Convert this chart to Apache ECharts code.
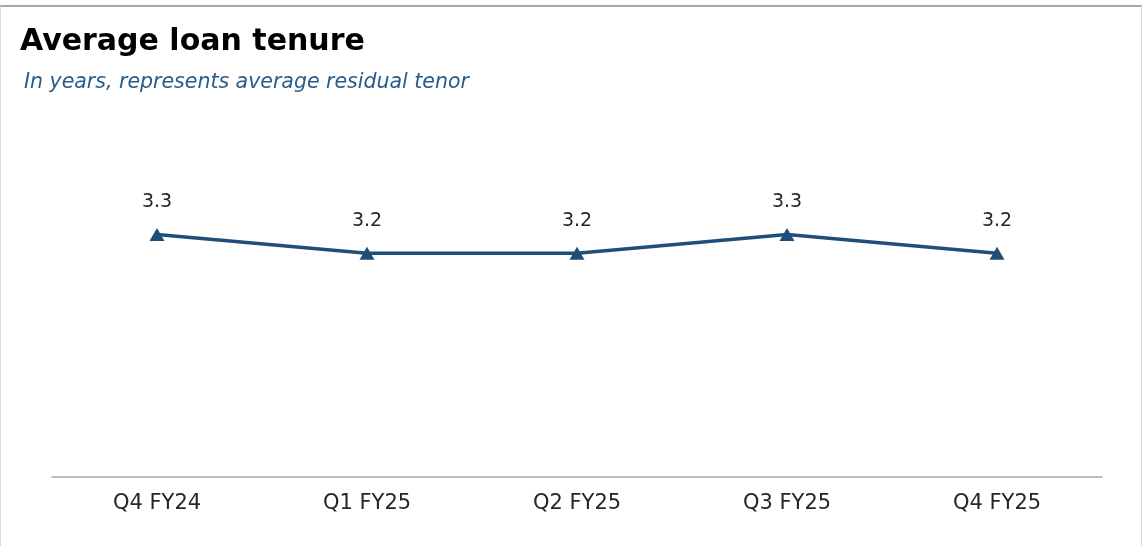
<!DOCTYPE html>
<html>
<head>
<meta charset="utf-8">
<script src="https://cdn.jsdelivr.net/npm/echarts@6/dist/echarts.min.js"></script>
<style>
  html, body { margin: 0; padding: 0; background: #ffffff; }
  #frame {
    position: absolute; left: 0; top: 5px; width: 1140px; height: 541px;
    border-top: 2px solid #a6a6a6; border-left: 1px solid #d9d9d9; border-right: 1px solid #d9d9d9;
  }
  #chart { position: absolute; left: 0; top: 0; width: 1142px; height: 546px; }
</style>
</head>
<body>
<div id="frame"></div>
<div id="chart"></div>
<script>
// Quarterly average residual loan tenor, in years
const quarters = ['Q4 FY24', 'Q1 FY25', 'Q2 FY25', 'Q3 FY25', 'Q4 FY25'];
const tenureYears = [3.3, 3.2, 3.2, 3.3, 3.2];

const FONT = '"DejaVu Sans", Inter, sans-serif';
const chart = echarts.init(document.getElementById('chart'), null, { renderer: 'canvas' });

chart.setOption({
  backgroundColor: 'transparent',
  animation: false,
  title: [
    {
      text: 'Average loan tenure',
      left: 15, top: 22,
      textStyle: { fontFamily: FONT, fontSize: 30, fontWeight: 'bold', color: '#000000' }
    },
    {
      text: 'In years, represents average residual tenor',
      left: 19, top: 68,
      textStyle: { fontFamily: FONT, fontSize: 20.5, fontStyle: 'italic', fontWeight: 'normal', color: '#2a5c8a' }
    }
  ],
  grid: { left: 52, right: 40, top: 104, bottom: 69 },
  xAxis: {
    type: 'category',
    data: quarters,
    boundaryGap: true,
    axisLine: { show: true, lineStyle: { color: '#a6a6a6', width: 1.5 } },
    axisTick: { show: false },
    axisLabel: { margin: 16, fontFamily: FONT, fontSize: 21, color: '#262626' }
  },
  yAxis: {
    type: 'value',
    min: 2, max: 4,
    show: false,
    splitLine: { show: false }
  },
  series: [{
    type: 'line',
    data: tenureYears,
    symbol: 'triangle',
    symbolSize: [15, 13],
    lineStyle: { color: '#1f4e79', width: 3.5 },
    itemStyle: { color: '#1f4e79' },
    label: {
      show: true,
      position: 'top',
      distance: 16,
      formatter: (p) => p.value.toFixed(1),
      fontFamily: FONT, fontSize: 19, color: '#262626'
    }
  }]
});
</script>
</body>
</html>
